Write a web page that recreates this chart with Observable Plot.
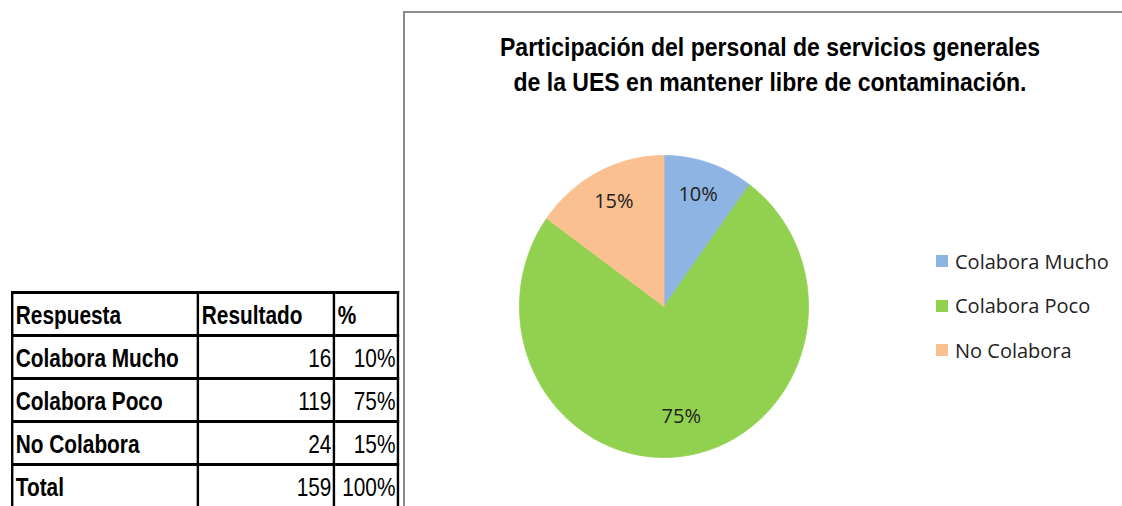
<!DOCTYPE html>
<html><head><meta charset="utf-8">
<script src="https://cdn.jsdelivr.net/npm/d3@7"></script>
<script src="https://cdn.jsdelivr.net/npm/@observablehq/plot@0.6"></script>
<style>
html,body{margin:0;padding:0;background:#fff;}
#page{position:relative;width:1122px;height:506px;overflow:hidden;background:#fff;}
#frame{position:absolute;left:403px;top:11px;width:717px;height:520px;border-top:2px solid #8c8c8c;border-left:2px solid #8c8c8c;}
#chart{position:absolute;left:0;top:0;}
#title{position:absolute;left:405px;width:730px;top:30px;text-align:center;font-family:"Liberation Sans",Arial,sans-serif;font-weight:bold;font-size:25px;line-height:35px;color:#000;transform-origin:365px 0;white-space:nowrap;}
#legend{position:absolute;left:936px;top:239px;font-family:"Open Sans","Noto Sans",sans-serif;font-size:20px;color:#222;}
#legend .row{display:flex;align-items:center;height:44.5px;}
#legend .sw{width:12px;height:12px;margin-right:7px;}
#tbl{position:absolute;left:11px;top:291px;border-collapse:collapse;table-layout:fixed;font-family:"Liberation Sans",Arial,sans-serif;font-size:26px;color:#000;transform-origin:0 0;}
#tbl td{border:3px solid #000;height:40px;padding:0 2px 0 3px;white-space:nowrap;overflow:hidden;line-height:37px;vertical-align:bottom;box-sizing:content-box;}
#tbl td.c1{font-weight:bold;}
#tbl td.c2,#tbl td.c3{text-align:right;}
#tbl tr.h td{font-weight:bold;text-align:left;}
</style></head><body><div id="page"><div id="frame"></div></div>
<script>
const categories = ["Colabora Mucho", "Colabora Poco", "No Colabora"];
const values = [16, 119, 24];
const colors = ["#8EB4E3", "#92D050", "#FAC090"];
const tableHeaders = ["Respuesta", "Resultado", "%"];
const totalLabel = "Total";
const titleLines = ["Participación del personal de servicios generales", "de la UES en mantener libre de contaminación."];

const total = d3.sum(values);
const pct = values.map(v => Math.round(v / total * 100) + "%");

// pie geometry from data (clockwise from 12 o'clock)
const arcs = d3.pie().sort(null).value(d => d)(values);
const points = [];
arcs.forEach((a, i) => {
  const key = categories[i];
  points.push({key, x: 0, y: 0});
  const n = Math.max(2, Math.ceil((a.endAngle - a.startAngle) / (Math.PI / 180)));
  for (let k = 0; k <= n; k++) {
    const t = a.startAngle + (a.endAngle - a.startAngle) * k / n;
    points.push({key, x: Math.sin(t), y: Math.cos(t)});
  }
  points.push({key, x: 0, y: 0});
});
const labels = arcs.map((a, i) => {
  const m = (a.startAngle + a.endAngle) / 2;
  return {label: pct[i], x: 0.76 * Math.sin(m), y: 0.76 * Math.cos(m)};
});

const chart = Plot.plot({
  width: 1122, height: 506,
  marginTop: 0, marginRight: 0, marginBottom: 0, marginLeft: 0,
  x: {domain: [-1, 1], range: [519, 808], axis: null},
  y: {domain: [-1, 1], range: [457, 155], axis: null},
  color: {domain: categories, range: colors},
  style: {background: "transparent"},
  marks: [
    Plot.line(points, {x: "x", y: "y", z: "key", fill: "key", stroke: "key", strokeWidth: 0.8, curve: "linear"}),
    Plot.text(labels, {x: "x", y: "y", text: "label", fontSize: 20, dy: -3, fill: "#222", fontFamily: "Open Sans, Noto Sans, sans-serif"})
  ]
});
chart.id = "chart";
const page = document.getElementById("page");
page.appendChild(chart);

const ctx = document.createElement("canvas").getContext("2d");
const measure = (txt, font) => { ctx.font = font; return ctx.measureText(txt).width; };

const title = document.createElement("div");
title.id = "title";
title.innerHTML = titleLines.join("<br>");
page.appendChild(title);
const tw = measure(titleLines[0], "bold 25px 'Liberation Sans'");
title.style.transform = `scaleX(${540 / tw})`;

const legend = document.createElement("div");
legend.id = "legend";
categories.forEach((c, i) => {
  const r = document.createElement("div"); r.className = "row";
  const s = document.createElement("span"); s.className = "sw"; s.style.background = colors[i];
  const t = document.createElement("span"); t.textContent = c;
  r.appendChild(s); r.appendChild(t); legend.appendChild(r);
});
page.appendChild(legend);

// table (narrowed like Calibri bold)
const k = 163 / measure("Colabora Mucho", "bold 26px 'Liberation Sans'");
const tbl = document.createElement("table");
tbl.id = "tbl";
const colW = [186, 136, 64];
const cg = document.createElement("colgroup");
colW.forEach(w => { const c = document.createElement("col"); c.style.width = (w / k) + "px"; cg.appendChild(c); });
tbl.appendChild(cg);
tbl.style.width = (d3.sum(colW) / k) + "px";
const addRow = (cells, cls) => {
  const tr = document.createElement("tr"); if (cls) tr.className = cls;
  cells.forEach((c, j) => {
    const td = document.createElement("td"); td.className = "c" + (j + 1); td.textContent = c; tr.appendChild(td);
  });
  tbl.appendChild(tr);
};
addRow(tableHeaders, "h");
categories.forEach((c, i) => addRow([c, values[i], pct[i]]));
addRow([totalLabel, total, Math.round(d3.sum(values.map(v => v / total * 100))) + "%"]);
tbl.style.transform = `scaleX(${k})`;
page.appendChild(tbl);
</script></body></html>
